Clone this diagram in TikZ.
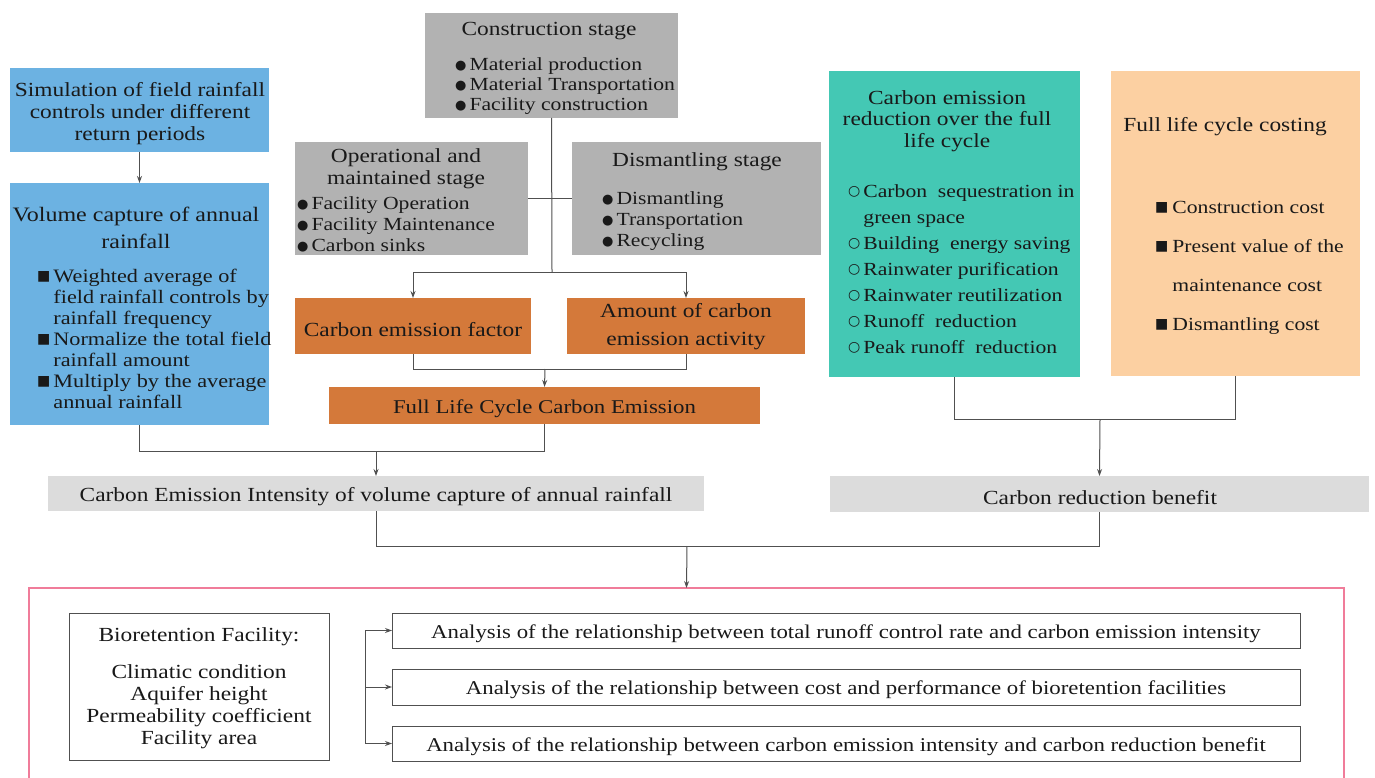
\documentclass[tikz,border=0pt]{standalone}
\usepackage{fontspec}
\setmainfont[FakeStretch=1.17]{Liberation Serif}
\newfontfamily\symf{DejaVu Sans}
\usetikzlibrary{arrows.meta}
\definecolor{cgray}{RGB}{178,178,178}
\definecolor{cblue}{RGB}{108,178,226}
\definecolor{cteal}{RGB}{68,200,180}
\definecolor{cpeach}{RGB}{252,208,162}
\definecolor{corange}{RGB}{212,121,58}
\definecolor{clight}{RGB}{220,220,220}
\definecolor{cpink}{RGB}{240,124,154}
\definecolor{cline}{RGB}{80,80,80}
\newcommand\mkdot{\raisebox{1pt}{\symf\fontsize{13}{13}\selectfont ●}}
\newcommand\mksq{\raisebox{2pt}{\symf\fontsize{14}{14}\selectfont ■}}
\newcommand\mkcirc{\raisebox{1.5pt}{\symf\fontsize{14}{14}\selectfont ○}}
\newcommand\fs[2]{\fontsize{#1}{#2}\selectfont}
\tikzset{
  box/.style={inner sep=0pt, outer sep=0pt},
  gbox/.style={box, fill=cgray},
  bbox/.style={box, fill=cblue},
  tbox/.style={box, fill=cteal},
  pbox/.style={box, fill=cpeach},
  obox/.style={box, fill=corange},
  lbox/.style={box, fill=clight},
  wbox/.style={box, draw=cline, line width=1pt, fill=white},
  txt/.style={inner sep=0pt, align=center, text=black!90},
  lst/.style={inner sep=0pt, anchor=west, text=black!90},
  conn/.style={draw=cline, line width=1pt},
  arr/.style={conn, -{Stealth[length=7pt,width=5pt]}},
}
\begin{document}
\begin{tikzpicture}[x=1pt,y=-1pt]
\clip (0,0) rectangle (1375,778);
\fill[white] (0,0) rectangle (1375,778);

% pink frame
\node[box, draw=cpink, line width=2pt, minimum width=1315pt, minimum height=202pt] (pink) at (686.5,689) {};

% construction stage
\node[gbox, minimum width=253pt, minimum height=105pt] (cs) at (551.5,65.5) {};
\node[txt, font=\fs{20}{22}] (cst) at (549,31) {Construction stage};
\node[lst, font=\fs{18.5}{20}] (csl) at (455,87) {\begin{tabular}{@{}l@{\hspace{3pt}}l@{}}\mkdot & Material production\\ \mkdot & Material Transportation\\ \mkdot & Facility construction\end{tabular}};

% operational stage
\node[gbox, minimum width=233pt, minimum height=113pt] (op) at (411.5,198.5) {};
\node[txt, font=\fs{20}{22}] (opt) at (406,169) {Operational and\\maintained stage};
\node[lst, font=\fs{18.5}{21}] (opl) at (297,226) {\begin{tabular}{@{}l@{\hspace{3pt}}l@{}}\mkdot & Facility Operation\\ \mkdot & Facility Maintenance\\ \mkdot & Carbon sinks\end{tabular}};

% dismantling stage
\node[gbox, minimum width=249pt, minimum height=113pt] (dis) at (696.5,198.5) {};
\node[txt, font=\fs{20}{22}] (dist) at (697,162) {Dismantling stage};
\node[lst, font=\fs{18.5}{21}] (disl) at (602,221) {\begin{tabular}{@{}l@{\hspace{3pt}}l@{}}\mkdot & Dismantling\\ \mkdot & Transportation\\ \mkdot & Recycling\end{tabular}};

% orange boxes
\node[obox, minimum width=236pt, minimum height=56pt] (cef) at (413,326) {};
\node[txt, font=\fs{20}{28}] (ceft) at (413,330) {Carbon emission factor};
\node[obox, minimum width=238pt, minimum height=56pt] (amt) at (686,326) {};
\node[txt, font=\fs{20}{28}] (amtt) at (686,327) {Amount of carbon\\emission activity};
\node[obox, minimum width=431pt, minimum height=37pt] (flc) at (544.5,405.5) {};
\node[txt, font=\fs{19.5}{22}] (flct) at (544.5,409) {Full Life Cycle Carbon Emission};

% blue boxes
\node[bbox, minimum width=259pt, minimum height=84pt] (sim) at (139.5,110) {};
\node[txt, font=\fs{20}{22}] (simt) at (140,114) {Simulation of field rainfall\\controls under different\\return periods};
\node[bbox, minimum width=259pt, minimum height=242pt] (vol) at (139.5,304) {};
\node[txt, font=\fs{20.5}{27}] (volt) at (136,228) {Volume capture of annual\\rainfall};
\node[lst, font=\fs{19}{21}] (voll) at (37,341) {\begin{tabular}{@{}l@{\hspace{3pt}}l@{}}\mksq & Weighted average of\\ & field rainfall controls by\\ & rainfall frequency\\ \mksq & Normalize the total field\\ & rainfall amount\\ \mksq & Multiply by the average\\ & annual rainfall\end{tabular}};

% teal box
\node[tbox, minimum width=251pt, minimum height=306pt] (teal) at (954.5,224) {};
\node[txt, font=\fs{20}{21.5}] (tealt) at (947,121) {Carbon emission\\reduction over the full\\life cycle};
\node[lst, font=\fs{18.5}{26}] (teall) at (848,270) {\begin{tabular}{@{}l@{\hspace{3pt}}l@{}}\mkcirc & Carbon~ sequestration in\\ & green space\\ \mkcirc & Building~ energy saving\\ \mkcirc & Rainwater purification\\ \mkcirc & Rainwater reutilization\\ \mkcirc & Runoff~ reduction\\ \mkcirc & Peak runoff~ reduction\end{tabular}};

% peach box
\node[pbox, minimum width=249pt, minimum height=305pt] (peach) at (1235.5,223.5) {};
\node[txt, font=\fs{20}{22}] (peacht) at (1225,127) {Full life cycle costing};
\node[lst, font=\fs{18.5}{39}] (peachl) at (1155,264.5) {\begin{tabular}{@{}l@{\hspace{4pt}}l@{}}\mksq & Construction cost\\ \mksq & Present value of the\\ & maintenance cost\\ \mksq & Dismantling cost\end{tabular}};

% light gray result boxes
\node[lbox, minimum width=656pt, minimum height=35pt] (cei) at (376,493.5) {};
\node[txt, font=\fs{20}{22}] (ceit) at (376,497) {Carbon Emission Intensity of volume capture of annual rainfall};
\node[lbox, minimum width=539pt, minimum height=36pt] (crb) at (1099.5,494) {};
\node[txt, font=\fs{20}{22}] (crbt) at (1100,498) {Carbon reduction benefit};

% bioretention
\node[wbox, minimum width=260pt, minimum height=147pt] (bio) at (199,686.5) {};
\node[txt, font=\fs{20}{22}] (biot) at (199,637) {Bioretention Facility:};
\node[txt, font=\fs{20}{22}] (biol) at (199,707) {Climatic condition\\Aquifer height\\Permeability coefficient\\Facility area};

% analysis boxes
\node[wbox, minimum width=908pt, minimum height=35pt] (a1) at (846,630.5) {};
\node[txt, font=\fs{19.5}{22}] (a1t) at (846,634) {Analysis of the relationship between total runoff control rate and carbon emission intensity};
\node[wbox, minimum width=908pt, minimum height=36pt] (a2) at (846,687) {};
\node[txt, font=\fs{19.5}{22}] (a2t) at (846,690) {Analysis of the relationship between cost and performance of bioretention facilities};
\node[wbox, minimum width=908pt, minimum height=35pt] (a3) at (846,743.5) {};
\node[txt, font=\fs{19.5}{22}] (a3t) at (846,747) {Analysis of the relationship between carbon emission intensity and carbon reduction benefit};

% connectors
\coordinate (j1) at (552,272);
\draw[conn] (cs.south) -- (j1);
\draw[conn] (op.east) -- (dis.west);
\draw[arr] (j1) -| (cef.north);
\draw[arr] (j1) -| (amt.north);

\coordinate (j2) at (545,369);
\draw[conn] (cef.south) |- (j2);
\draw[conn] (amt.south) |- (j2);
\draw[arr] (j2) -- (flc.north);

\draw[arr] (sim.south) -- (vol.north);

\coordinate (j3) at (376,451);
\draw[conn] (vol.south) |- (j3);
\draw[conn] (flc.south) |- (j3);
\draw[arr] (j3) -- (cei.north);

\coordinate (j4) at (1100,419);
\draw[conn] (teal.south) |- (j4);
\draw[conn] (peach.south) |- (j4);
\draw[arr] (j4) -- (crb.north);

\coordinate (j5) at (687,546);
\draw[conn] (cei.south) |- (j5);
\draw[conn] (crb.south) |- (j5);
\draw[arr] (j5) -- (pink.north);

\coordinate (b1) at (365,630.5);
\coordinate (b3) at (365,743.5);
\draw[conn] (b1) -- (b3);
\draw[arr] (b1) -- (a1.west);
\draw[arr] (b1 |- a2.west) -- (a2.west);
\draw[arr] (b3) -- (a3.west);
\end{tikzpicture}
\end{document}
